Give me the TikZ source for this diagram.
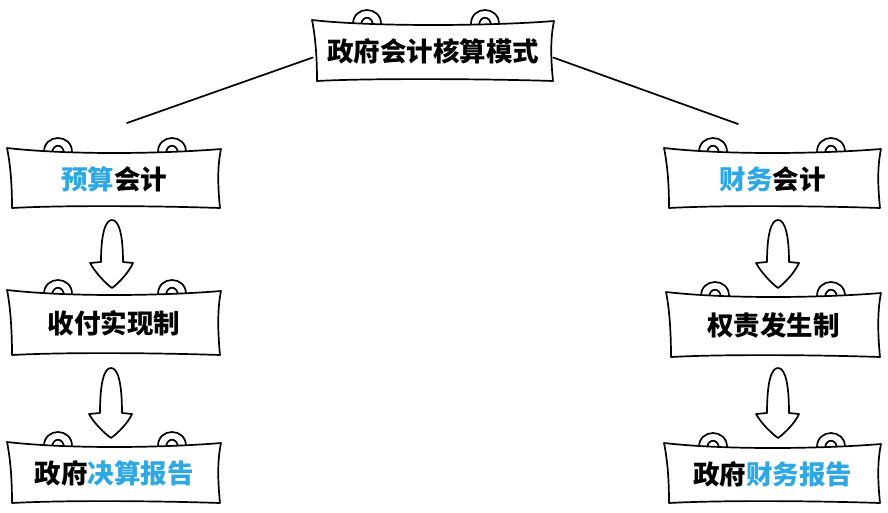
\documentclass[tikz,border=0pt]{standalone}
\usepackage{fontspec}
\newfontfamily\cjk{Noto Sans CJK SC}
\definecolor{hlblue}{RGB}{45,168,228}
\newcommand\hl[1]{\textcolor{hlblue}{#1}}
\tikzset{
  ink/.style={draw=black,line width=1.7pt,line join=round,line cap=round},
  lbl/.style={inner sep=0pt,font=\cjk\bfseries\fontsize{26.5}{31}\selectfont}
}
\newcommand\bannerloop[2]{%
  \draw[ink] ({#1-14},{#2+1}) .. controls ({#1-15},{#2-19}) and ({#1+15},{#2-19}) .. ({#1+14},{#2+1});
  \draw[ink] ({#1-6},{#2+2}) .. controls ({#1-6},{#2-9}) and ({#1+6},{#2-9}) .. ({#1+6},{#2+2});}
% name, x0, y0, x1, y1, left loop cx, right loop cx, text
\newcommand\banner[8]{%
  \bannerloop{#6}{#3+4}\bannerloop{#7}{#3+4}
  \draw[ink,fill=white] ({#2-1},{#3}) .. controls ({#2+60},{#3+7}) and ({#4-60},{#3+6}) .. ({#4+1},{#3+1})
    .. controls ({#4-3},{#3+20}) and ({#4-2},{#5-20}) .. ({#4},{#5})
    .. controls ({#4-60},{#5-2}) and ({#2+60},{#5-3}) .. ({#2+4},{#5})
    .. controls ({#2+4},{#5-20}) and ({#2+3},{#3+20}) .. cycle;
  \node[lbl,minimum width={(#4-#2)*1pt},minimum height={(#5-#3)*1pt}] (#1) at ({(#2+#4)/2},{(#3+#5)/2+1}) {#8};}
% cx, ytop, yhead, ytip
\newcommand\fatarrow[4]{%
  \draw[ink,fill=white] (#1,#2) .. controls ({#1+7},{#2}) and ({#1+11},{#2+15}) .. ({#1+11},{#3})
    -- ({#1+21},{#3+1}) .. controls ({#1+17},{#3+10}) and ({#1+7},{#4-5}) .. (#1,#4)
    .. controls ({#1-7},{#4-5}) and ({#1-17},{#3+10}) .. ({#1-22},{#3+1}) -- ({#1-11},{#3})
    .. controls ({#1-11},{#2+15}) and ({#1-7},{#2}) .. cycle;}
\begin{document}
\begin{tikzpicture}[x=1pt,y=-1pt]
  \useasboundingbox[fill=white] (0,0) rectangle (888,513);
  % top
  \banner{top}{313}{20}{553}{81}{367}{485}{政府会计核算模式}
  \coordinate (la) at (127,123);
  \coordinate (ra) at (738,124);
  \draw[ink] ([yshift=-6pt]top.west) -- (la);
  \draw[ink] ([yshift=-6pt]top.east) -- (ra);
  % left column
  \banner{lb1}{8}{148}{220}{208}{58}{172}{\hl{预算}会计}
  \banner{lb2}{8}{290}{220}{355}{58}{172}{收付实现制}
  \banner{lb3}{8}{442}{220}{503}{58}{172}{政府\hl{决算报告}}
  \fatarrow{112}{220}{262}{288}
  \fatarrow{111}{368}{413}{438}
  % right column
  \banner{rb1}{665}{148}{880}{208}{713}{831}{\hl{财务}会计}
  \banner{rb2}{667}{292}{880}{357}{715}{831}{权责发生制}
  \banner{rb3}{665}{443}{880}{503}{713}{831}{政府\hl{财务报告}}
  \fatarrow{778}{220}{262}{288}
  \fatarrow{778}{368}{413}{438}
\end{tikzpicture}
\end{document}
